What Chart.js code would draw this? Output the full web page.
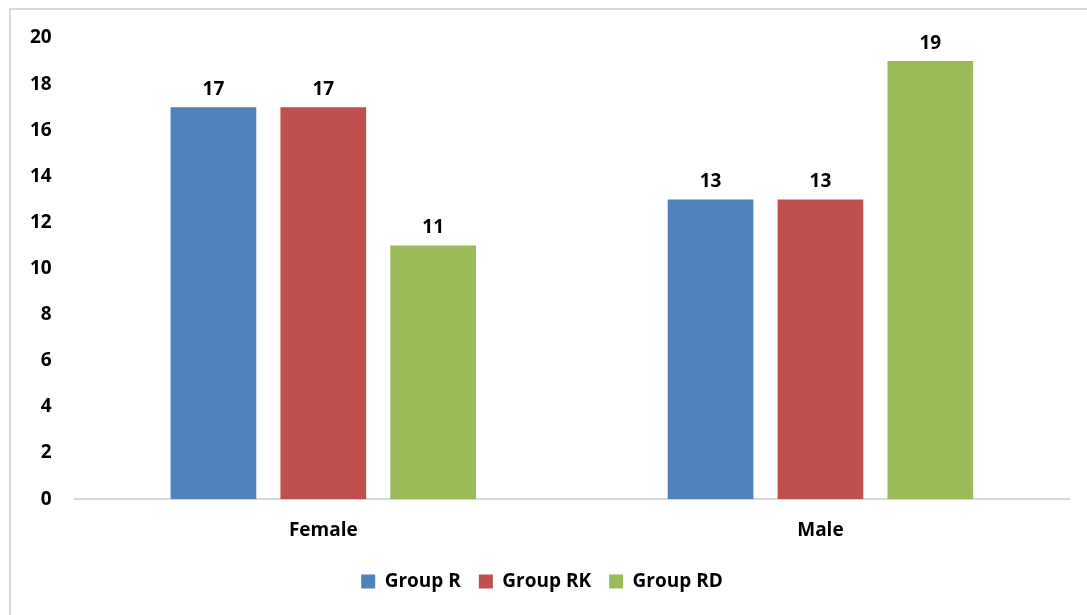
<!DOCTYPE html>
<html>
<head>
<meta charset="utf-8">
<script src="https://cdn.jsdelivr.net/npm/chart.js@4/dist/chart.umd.min.js"></script>
<style>
  html, body { margin: 0; padding: 0; background: #fff; overflow: hidden; }
  #wrap { position: relative; width: 1087px; height: 615px; }
  #frame { position: absolute; left: 9px; top: 8px; width: 1100px; height: 620px; border: 2px solid #d9d9d9; box-sizing: border-box; }
  canvas { position: absolute; left: 0; top: 0; }
</style>
</head>
<body>
<div id="wrap">
  <div id="frame"></div>
  <canvas id="chart" width="1087" height="615"></canvas>
</div>
<script>
const categories = ["Female", "Male"];
const groupR = [17, 13];
const groupRK = [17, 13];
const groupRD = [11, 19];
const seriesNames = ["Group R", "Group RK", "Group RD"];
const colors = ["#4f81bd", "#c0504d", "#9bbb59"];

const fontFamily = "'Open Sans', 'Liberation Sans', sans-serif";

// draws the value above each bar
const valueLabels = {
  id: "valueLabels",
  afterDatasetsDraw(chart) {
    const ctx = chart.ctx;
    ctx.save();
    ctx.font = "bold 19px " + fontFamily;
    ctx.fillStyle = "#000";
    ctx.textAlign = "center";
    ctx.textBaseline = "bottom";
    chart.data.datasets.forEach((ds, i) => {
      chart.getDatasetMeta(i).data.forEach((bar, j) => {
        ctx.fillText(ds.data[j], bar.x, bar.y - 8);
      });
    });
    ctx.restore();
  }
};

const ctx = document.getElementById("chart").getContext("2d");
new Chart(ctx, {
  type: "bar",
  data: {
    labels: categories,
    datasets: [groupR, groupRK, groupRD].map((d, i) => ({
      label: seriesNames[i],
      data: d,
      backgroundColor: colors[i],
      categoryPercentage: 0.663,
      barPercentage: 0.78
    }))
  },
  options: {
    responsive: false,
    animation: false,
    layout: { padding: { left: 15, right: 18, top: 38, bottom: 14 } },
    plugins: {
      legend: {
        position: "bottom",
        labels: {
          boxWidth: 14,
          boxHeight: 14,
          padding: 18,
          color: "#000",
          font: { family: fontFamily, size: 19, weight: "bold" }
        }
      },
      tooltip: { enabled: false }
    },
    scales: {
      x: {
        grid: { display: false },
        border: { color: "#d9d9d9", width: 2 },
        ticks: { color: "#000", padding: 12, font: { family: fontFamily, size: 19, weight: "bold" } }
      },
      y: {
        min: 0,
        max: 20,
        ticks: { stepSize: 2, color: "#000", padding: 15, font: { family: fontFamily, size: 19, weight: "bold" } },
        grid: { display: false },
        border: { display: false }
      }
    }
  },
  plugins: [valueLabels]
});
</script>
</body>
</html>
